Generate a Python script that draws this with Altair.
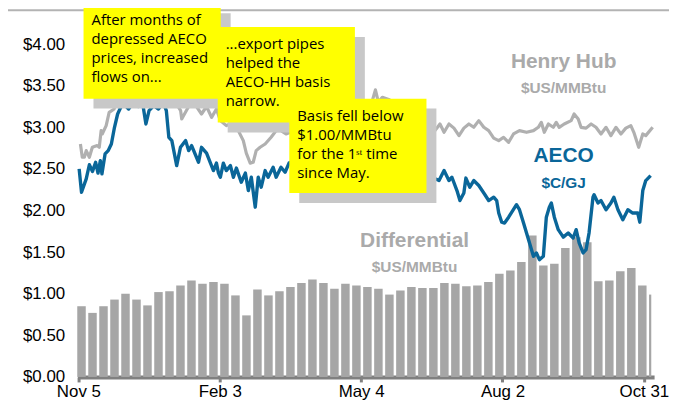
import altair as alt
import pandas as pd

# ---------------- data ----------------
# x positions are days since Nov 5
tick_days = [0, 90, 180, 270, 360]
tick_labels = ["Nov 5", "Feb 3", "May 4", "Aug 2", "Oct 31"]
y_ticks = [0, 0.5, 1.0, 1.5, 2.0, 2.5, 3.0, 3.5, 4.0]

# weekly AECO-HH differential ($US/MMBtu), one value per trading week (Mon..Fri)
diff_weekly = [0.85, 0.77, 0.85, 0.93, 1.00, 0.93, 0.86, 1.02, 1.03, 1.10,
               1.16, 1.12, 1.14, 1.12, 0.98, 0.74, 1.05, 0.98, 1.03, 1.08,
               1.13, 1.17, 1.13, 1.06, 1.12, 1.10, 1.08, 1.06, 0.99, 1.04,
               1.08, 1.07, 1.07, 1.13, 1.12, 1.09, 1.10, 1.14, 1.24, 1.28,
               1.38, 1.70, 1.34, 1.36, 1.55, 1.68, 1.62, 1.15, 1.16, 1.27,
               1.31, 1.10, 0.99]
last_day = 364

aeco_day = [0.5, 2, 5, 7, 9, 11, 12.5, 14, 15, 17, 19, 21, 23, 25, 27, 29, 32, 35, 38, 41,
            43, 45, 48, 51, 54, 56, 57.6, 59.5, 62.6, 65, 68.3, 70.2, 72.1, 76.5, 78.4, 81.6,
            84.1, 86, 87.9, 89.2, 90.4, 92.3, 94.2, 96.8, 98.7, 100.6, 103.7, 106.3, 108.2,
            110.1, 112.6, 114.5, 116.4, 118.9, 120.8, 124, 125.9, 129, 131.6, 134.1, 137, 141,
            145, 150, 155, 160, 165, 170, 175, 180, 185, 190, 195, 200, 205, 210, 215, 220, 225,
            229.6, 232.8, 235.9, 237.8, 241, 242.9, 245.4, 246.7, 249.2, 251.7, 254.9, 258.1,
            261.2, 264.4, 266.3, 267.6, 269.5, 271.3, 273.9, 278.9, 280.8, 283.4, 285.3, 287.2,
            289.7, 291.6, 293.5, 296, 297.9, 299.8, 301.1, 303, 305.5, 308.7, 311.8, 315, 316.9,
            318.8, 321.3, 323.2, 325.1, 327.6, 328.3, 330.8, 332.7, 335.9, 339, 340.9, 343.5,
            346.6, 349.8, 352.9, 356.1, 357.4, 359.3, 361.2, 364.3]
aeco_val = [2.50, 2.22, 2.38, 2.55, 2.47, 2.58, 2.45, 2.60, 2.44, 2.68, 2.72, 2.80, 3.00, 3.16,
            3.24, 3.28, 3.22, 3.30, 3.25, 3.28, 3.04, 3.20, 3.26, 3.22, 3.30, 3.20, 2.88, 2.84,
            2.54, 2.76, 2.84, 2.72, 2.78, 2.58, 2.76, 2.69, 2.57, 2.48, 2.57, 2.45, 2.40, 2.57,
            2.48, 2.54, 2.40, 2.51, 2.34, 2.45, 2.24, 2.40, 2.04, 2.40, 2.28, 2.48, 2.40, 2.52,
            2.40, 2.52, 2.46, 2.57, 2.60, 2.55, 2.65, 2.60, 2.55, 2.50, 2.60, 2.55, 2.45, 2.50,
            2.40, 2.45, 2.38, 2.42, 2.35, 2.40, 2.45, 2.35, 2.40, 2.36, 2.48, 2.36, 2.40, 2.24,
            2.12, 2.21, 2.39, 2.28, 2.36, 2.30, 2.21, 2.12, 2.16, 2.12, 1.97, 1.86, 1.85, 1.92,
            2.07, 2.01, 1.85, 1.73, 1.61, 1.45, 1.49, 1.41, 1.45, 1.92, 2.04, 2.09, 1.92, 1.77,
            1.68, 1.73, 1.67, 1.77, 1.61, 1.49, 1.53, 1.73, 2.16, 2.19, 2.09, 2.12, 2.01, 2.09,
            2.16, 2.01, 1.89, 2.01, 1.97, 1.97, 1.86, 2.24, 2.36, 2.42]

hh_day = [1.3, 2.5, 3.8, 5, 7, 8.9, 12, 13.3, 14.5, 15.2, 17.7, 19.6, 22.8, 25, 28, 31, 34, 37,
          40, 43, 46, 49, 52, 55, 58, 61, 63.5, 65.1, 65.8, 70.2, 73.4, 78.4, 81.6, 84.8, 87.9,
          90.4, 94.2, 97.4, 101.8, 105, 106.9, 109.4, 111.3, 113.2, 115.7, 118.9, 122.7, 125.9,
          129, 132.2, 136, 140, 145, 150, 155, 160, 165, 170, 175, 180, 185.3, 189.1, 191, 193.5,
          198, 202, 207, 212, 217, 222, 227, 230.2, 232.8, 235.9, 239.1, 242.3, 245.4, 248.6,
          251.7, 254.9, 258.1, 261.2, 264.4, 267.6, 270.7, 273.9, 277, 280.8, 285.3, 289.7,
          292.8, 294.7, 296.6, 299.2, 302.3, 304.2, 306.1, 309.3, 313.7, 315.6, 318.2, 320,
          323.2, 326.4, 329.5, 332.7, 335.9, 339, 342.2, 345.4, 348.5, 351.7, 353.6, 356.7,
          359.3, 361.2, 365.6]
hh_val = [2.80, 2.64, 2.64, 2.72, 2.64, 2.76, 2.78, 2.76, 2.96, 2.92, 3.02, 3.18, 3.22, 3.40,
          3.55, 3.70, 3.80, 3.65, 3.75, 3.60, 3.50, 3.60, 3.45, 3.50, 3.40, 3.35, 3.25, 3.20,
          3.10, 3.25, 3.30, 3.16, 3.25, 3.12, 3.22, 3.08, 3.02, 3.05, 2.96, 2.84, 2.69, 2.57,
          2.58, 2.72, 2.76, 2.80, 2.88, 2.96, 2.96, 2.92, 2.95, 2.90, 3.00, 2.95, 3.05, 3.00,
          3.10, 3.05, 3.15, 3.10, 3.20, 3.45, 3.30, 3.36, 3.33, 3.20, 3.10, 3.00, 3.05, 2.95,
          2.96, 3.04, 2.94, 3.04, 2.99, 2.90, 2.99, 3.04, 3.00, 3.08, 3.00, 2.96, 2.87, 2.84,
          2.88, 2.82, 2.92, 2.96, 2.94, 2.96, 3.00, 3.06, 2.94, 3.04, 3.00, 3.06, 3.00, 3.04,
          3.08, 3.16, 3.10, 3.00, 2.99, 3.04, 3.00, 2.92, 3.00, 2.90, 3.00, 2.92, 2.99, 3.02,
          2.94, 2.76, 2.92, 2.90, 3.00]

box1_lines = ["After months of", "depressed AECO", "prices, increased", "flows on..."]
box2_lines = ["...export pipes", "helped the", "AECO-HH basis", "narrow."]
box3_lines = ["Basis fell below", "$1.00/MMBtu", "for the 1\u02e2\u1d57 time", "since May."]

# ---------------- layout / style ----------------
W, H = 580, 360
X_DOM = [-0.5, 366.5]
Y_DOM = [0, 4.3]
OX, OY = 78, 18          # page position of plot origin (for annotation placement)
AECO_C = "#0a6699"
HH_C = "#b0b0b0"
BAR_C = "#a6a6a6"
TXT_GRAY = "#aaaaaa"
AXIS_FONT = "Liberation Sans"
NOTE_FONT = "Open Sans"

xs = alt.Scale(domain=X_DOM, nice=False, zero=False)
ys = alt.Scale(domain=Y_DOM, nice=False)

starts = [7 * k for k in range(len(diff_weekly))]
bars_df = pd.DataFrame({
    "x0": [s - 0.7 for s in starts],
    "x1": [min(s + 4, last_day) + 0.7 for s in starts],
    "v": diff_weekly,
})
aeco_df = pd.DataFrame({"x0": aeco_day, "v": aeco_val})
hh_df = pd.DataFrame({"x0": hh_day, "v": hh_val})

label_expr = " : ".join(
    f"datum.value == {d} ? '{l}'" for d, l in zip(tick_days, tick_labels)
) + " : ''"

x_axis = alt.Axis(values=tick_days, labelExpr=label_expr, title=None, grid=False,
                  domainColor="#808080", domainWidth=4, tickColor="#808080", tickWidth=3,
                  tickSize=5, labelFont=AXIS_FONT, labelFontSize=17, labelColor="#000000",
                  labelPadding=2, labelFlush=False, labelOverlap=False)
y_axis = alt.Axis(values=y_ticks, format="$.2f", title=None, grid=False, domain=False,
                  ticks=False, labelFont=AXIS_FONT, labelFontSize=17, labelColor="#000000",
                  labelPadding=13)

X = alt.X("x0:Q", scale=xs, axis=x_axis, title=None)
Y = alt.Y("v:Q", scale=ys, axis=y_axis, title=None)

bars = alt.Chart(bars_df).mark_rect(color=BAR_C).encode(
    x=X, x2="x1:Q", y=Y, y2=alt.datum(0),
)
hh_line = alt.Chart(hh_df).mark_line(color=HH_C, strokeWidth=3.2, strokeJoin="round").encode(
    x=X, y=Y)
aeco_line = alt.Chart(aeco_df).mark_line(color=AECO_C, strokeWidth=3.4, strokeJoin="round").encode(
    x=X, y=Y)

one = pd.DataFrame({"k": [0]})


def txt(s, px, py, size, color, bold=False, font=AXIS_FONT, align="center"):
    return alt.Chart(one).mark_text(
        fontSize=size, color=color, font=font, fontWeight="bold" if bold else "normal",
        align=align, baseline="middle",
    ).encode(x=alt.value(px - OX), y=alt.value(py - OY), text=alt.value(s))


def rect(x0, y0, x1, y1, color):
    return alt.Chart(one).mark_rect(color=color).encode(
        x=alt.value(x0 - OX), x2=alt.value(x1 - OX),
        y=alt.value(y0 - OY), y2=alt.value(y1 - OY))


series_labels = [
    txt("Henry Hub", 567, 61, 21, TXT_GRAY, True),
    txt("$US/MMBtu", 567, 87, 15.5, TXT_GRAY, True),
    txt("AECO", 567, 156, 21, AECO_C, True),
    txt("$C/GJ", 567, 183, 15.5, AECO_C, True),
    txt("Differential", 417, 241, 21, TXT_GRAY, True),
    txt("$US/MMBtu", 417, 267, 15.5, TXT_GRAY, True),
]

top_band = rect(0, 8, 700, 10, "#b3b3b3")

boxes = []
for (bx0, by0, bx1, by1, tx, ty0, lines) in [
    (84, 2, 222, 98, 92, 19, box1_lines),
    (219, 26, 357, 122, 227, 43, box2_lines),
    (291, 98, 429, 193, 299, 115, box3_lines),
]:
    boxes.append(rect(bx0 + 10, by0 + 10, bx1 + 10, by1 + 10, "#c8c8c8"))
    boxes.append(rect(bx0, by0, bx1, by1, "#ffff00"))
    for i, line in enumerate(lines):
        boxes.append(txt(line, tx, ty0 + 19.2 * i, 15, "#000000", font=NOTE_FONT, align="left"))

chart = alt.layer(bars, hh_line, aeco_line, *series_labels, top_band, *boxes).properties(
    width=W, height=H,
    padding={"left": 70, "right": 15, "top": 10, "bottom": 25},
    autosize=alt.AutoSizeParams(type="none"),
    background="white",
).configure_view(stroke=None)

chart.save("out.html", embed_options={"renderer": "svg", "actions": False})
